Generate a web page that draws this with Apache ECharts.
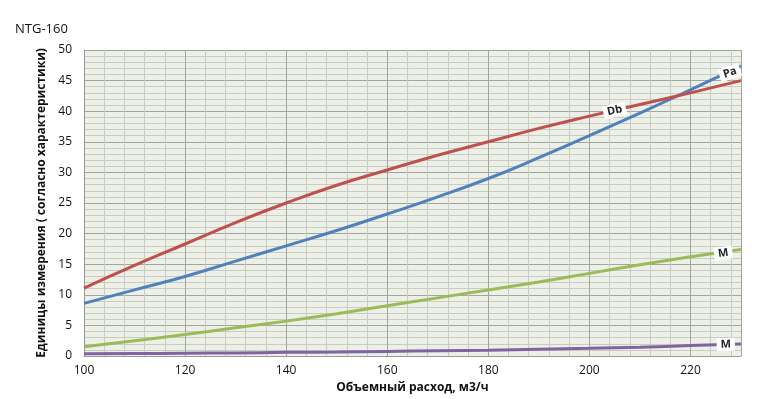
<!DOCTYPE html>
<html>
<head>
<meta charset="utf-8">
<script src="https://cdn.jsdelivr.net/npm/echarts@6/dist/echarts.min.js"></script>
<style>
    html, body { margin: 0; padding: 0; background: #fff; }
    #chart { width: 772px; height: 399px; }
</style>
</head>
<body>
<div id="chart"></div>
<script>
// NTG-160 характеристики
var flow = [100, 110, 120, 130, 140, 150, 160, 170, 180, 190, 200, 210, 220, 230];
var dbData = [11.1, 14.8, 18.3, 21.8, 25.0, 27.9, 30.4, 32.8, 35.0, 37.2, 39.2, 41.1, 43.0, 45.0];
var paData = [8.6, 10.8, 13.0, 15.5, 18.0, 20.5, 23.2, 26.0, 29.0, 32.4, 36.0, 39.7, 43.5, 47.4];
var mGreen = [1.5, 2.5, 3.5, 4.6, 5.7, 6.9, 8.2, 9.5, 10.8, 12.1, 13.5, 14.9, 16.2, 17.4];
var mPurple = [0.35, 0.4, 0.45, 0.5, 0.6, 0.65, 0.75, 0.85, 0.95, 1.1, 1.25, 1.45, 1.7, 1.95];
// подписи на линиях: [x, y, текст, поворот]
var lineLabels = {
    db: [205, 40.1, 'Db', 13],
    pa: [227.8, 46.3, 'Pa', 18],
    green: [226.5, 16.8, 'M', 8],
    purple: [227, 1.88, 'M', 2]
};

(function () {
    var myChart = echarts.init(document.getElementById('chart'));

    function pairs(ys) {
        return flow.map(function (x, i) { return [x, ys[i]]; });
    }

    function mark(l) {
        return {
            symbol: 'circle',
            symbolSize: 1,
            silent: true,
            itemStyle: { color: 'transparent' },
            label: {
                show: true,
                position: 'inside',
                formatter: l[2],
                rotate: l[3],
                color: '#222',
                fontWeight: 'bold',
                fontSize: 11,
                fontFamily: 'Open Sans',
                backgroundColor: '#fff',
                padding: [1, 4]
            },
            data: [{ coord: [l[0], l[1]] }]
        };
    }

    function line(name, color, ys, l) {
        return {
            name: name,
            type: 'line',
            smooth: true,
            showSymbol: false,
            lineStyle: { color: color, width: 3 },
            itemStyle: { color: color },
            data: pairs(ys),
            markPoint: mark(l),
            z: 3
        };
    }

    var labelStyle = { color: '#111', fontSize: 12, fontFamily: 'Open Sans' };

    var option = {
        backgroundColor: '#fff',
        animation: false,
        title: {
            text: 'NTG-160',
            left: 10,
            top: 18,
            textStyle: { color: '#111', fontSize: 13, fontWeight: 'normal', fontFamily: 'Open Sans' }
        },
        grid: {
            left: 84,
            right: 31,
            top: 50,
            bottom: 43,
            show: true,
            backgroundColor: '#EDF0E7',
            borderWidth: 0
        },
        xAxis: {
            type: 'value',
            min: 100,
            max: 230,
            interval: 20,
            name: 'Объемный расход, м3/ч',
            nameLocation: 'middle',
            nameGap: 25,
            nameTextStyle: { color: '#111', fontSize: 12, fontWeight: 'bold', fontFamily: 'Open Sans' },
            axisLine: { show: true, lineStyle: { color: '#999', width: 1 } },
            axisTick: { show: false },
            axisLabel: Object.assign({ margin: 9, showMaxLabel: false }, labelStyle),
            splitLine: { show: true, lineStyle: { color: '#A3A69E', width: 1 } },
            minorTick: { show: false, splitNumber: 5 },
            minorSplitLine: { show: true, lineStyle: { color: '#C9CCC2', width: 1 } }
        },
        yAxis: {
            type: 'value',
            min: 0,
            max: 50,
            interval: 5,
            name: 'Единицы измерения ( согласно характеристики)',
            nameLocation: 'middle',
            nameGap: 22,
            nameTextStyle: { color: '#111', fontSize: 12, fontWeight: 'bold', fontFamily: 'Open Sans' },
            axisLine: { show: true, lineStyle: { color: '#999', width: 1 } },
            axisTick: { show: false },
            axisLabel: Object.assign({ margin: 12 }, labelStyle),
            splitLine: { show: true, lineStyle: { color: '#A3A69E', width: 1 } },
            minorTick: { show: false, splitNumber: 5 },
            minorSplitLine: { show: true, lineStyle: { color: '#C9CCC2', width: 1 } }
        },
        series: [
            line('M2', '#8064A2', mPurple, lineLabels.purple),
            line('M', '#9BBB59', mGreen, lineLabels.green),
            line('Pa', '#4F81BD', paData, lineLabels.pa),
            line('Db', '#C0504D', dbData, lineLabels.db)
        ]
    };
    myChart.setOption(option);
    window.addEventListener('resize', function () {
        myChart.resize();
    });
})();
</script>
</body>
</html>
